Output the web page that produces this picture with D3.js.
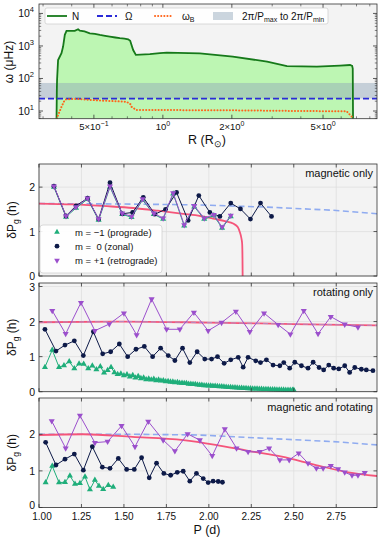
<html>
<head>
<script src="https://d3js.org/d3.v7.min.js"></script>
<style>
  body { margin: 0; background: white; }
  text { font-family: "Liberation Sans", Arial, sans-serif; fill: #111; }
</style>
</head>
<body>
<svg id="fig" width="382" height="541"></svg>
<script>
// ---- top panel: frequency profiles ----
const nR   = [0.3435, 0.3445, 0.3453, 0.3489, 0.3610, 0.3669, 0.3733, 0.3797, 0.4126, 0.4267, 0.4341, 0.4550, 0.4800, 0.5050, 0.5308, 0.5600, 0.5869, 0.6200, 0.6489, 0.6800, 0.7057, 0.7200, 0.7419, 0.7623, 0.8774, 0.9703, 1.04, 1.45, 2.02, 2.85, 3.48, 4.70, 5.93, 6.56, 6.70, 6.74, 6.76];
const nVal = [5.5, 40, 90, 370, 600, 960, 2200, 2900, 2900, 3250, 2950, 2800, 2450, 2350, 2180, 2050, 1940, 1820, 1730, 1680, 1600, 1450, 750, 530, 560, 600, 620, 590, 470, 330, 240, 230, 250, 260, 245, 200, 5.5];
const bR   = [0.3445, 0.3489, 0.3610, 0.3733, 0.3800, 0.4200, 0.5310, 0.6940, 0.7230, 0.7300, 0.7670, 1.00, 2.00, 3.97, 6.34, 6.67];
const bVal = [5.5, 7.5, 13.5, 22, 23, 23.5, 21, 19.3, 16, 13.5, 10.7, 10.7, 10.5, 10, 9.8, 6.7];
const omega = 24;          // μHz
const bandLo = 24.2, bandHi = 72.7;   // 2π/Pmax, 2π/Pmin

// ---- lower panels: period spacings ----
// magnetic only
const magP0 = [1.088, 1.159, 1.218, 1.286, 1.351, 1.418, 1.490, 1.551, 1.614, 1.682, 1.745, 1.810, 1.878, 1.941, 2.006, 2.065, 2.129, 2.186, 2.245, 2.304, 2.369];
const magV0 = [2.02, 1.35, 1.58, 1.75, 1.28, 2.10, 1.40, 1.43, 1.77, 1.39, 1.50, 1.88, 1.25, 1.81, 1.43, 1.34, 1.64, 1.51, 1.28, 1.64, 1.34];
const magPp = [1.088, 1.159, 1.218, 1.286, 1.351, 1.418, 1.490, 1.545, 1.610, 1.676, 1.731, 1.790, 1.855, 1.914, 1.973, 2.029, 2.078, 2.129];
const magVp = [2.02, 1.35, 1.55, 1.75, 1.28, 2.02, 1.41, 1.34, 1.73, 1.41, 1.30, 1.87, 1.15, 1.58, 1.30, 1.38, 1.10, 1.36];
const magVm = [2.00, 1.33, 1.53, 1.73, 1.26, 2.00, 1.39, 1.32, 1.71, 1.39, 1.28, 1.85, 1.13, 1.56, 1.28, 1.36, 1.08, 1.34];
const magFitP = [1.00, 1.20, 1.40, 1.555, 1.70, 1.849, 1.95, 2.025, 2.10, 2.143, 2.170, 2.182, 2.190, 2.196, 2.198, 2.199];
const magFitV = [1.63, 1.61, 1.57, 1.53, 1.47, 1.40, 1.35, 1.29, 1.23, 1.18, 1.10, 0.99, 0.88, 0.73, 0.40, 0.0];
const magAsyP = [1.00, 1.50, 1.94, 2.34, 2.73, 2.99];
const magAsyV = [1.63, 1.62, 1.60, 1.55, 1.48, 1.40];

// rotating only
const rotPp = [1.078, 1.157, 1.247, 1.329, 1.414, 1.500, 1.575, 1.663, 1.751, 1.829, 1.912, 1.996, 2.075, 2.159, 2.241, 2.325, 2.408, 2.480, 2.559, 2.643, 2.718, 2.800, 2.878];
const rotVp = [2.31, 1.65, 2.54, 1.74, 1.93, 2.24, 1.62, 2.64, 1.78, 1.78, 2.26, 1.74, 1.97, 2.29, 1.71, 2.24, 1.91, 1.64, 2.31, 1.65, 2.14, 1.92, 1.84];
const rotP0 = [1.035, 1.100, 1.153, 1.208, 1.261, 1.320, 1.375, 1.422, 1.473, 1.522, 1.571, 1.620, 1.669, 1.716, 1.761, 1.800, 1.845, 1.888, 1.931, 1.976, 2.016, 2.051, 2.090, 2.129, 2.173, 2.202, 2.231, 2.276, 2.304, 2.339, 2.378, 2.418, 2.441, 2.476, 2.506, 2.545, 2.584, 2.614, 2.649, 2.676, 2.706, 2.735, 2.765, 2.800, 2.829, 2.859, 2.898, 2.927, 2.966];
const rotV0 = [1.78, 1.16, 1.33, 1.45, 1.03, 1.71, 1.08, 1.14, 1.36, 1.00, 1.21, 1.29, 1.00, 1.24, 1.03, 0.89, 1.24, 0.83, 1.14, 0.93, 0.93, 1.00, 0.81, 0.91, 0.98, 0.70, 0.98, 0.88, 0.83, 0.91, 0.76, 0.74, 0.83, 0.67, 0.84, 0.74, 0.67, 0.84, 0.69, 0.62, 0.76, 0.67, 0.65, 0.74, 0.55, 0.69, 0.64, 0.62, 0.60];
const rotPm = [1.035, 1.078, 1.118, 1.147, 1.178, 1.208, 1.236, 1.263, 1.290, 1.314, 1.338, 1.361, 1.383, 1.404, 1.424, 1.444, 1.463, 1.482, 1.500, 1.518, 1.535, 1.552, 1.568, 1.584, 1.600, 1.616, 1.631, 1.646, 1.661, 1.676, 1.690, 1.704, 1.718, 1.732, 1.746, 1.760, 1.774, 1.788, 1.801, 1.815, 1.828, 1.842, 1.855, 1.868, 1.881, 1.894, 1.907, 1.920, 1.933, 1.946, 1.959, 1.972, 1.985, 1.998, 2.011, 2.024, 2.037, 2.050, 2.063, 2.076, 2.089, 2.102, 2.115, 2.128, 2.141, 2.154, 2.167, 2.180, 2.193, 2.206, 2.219, 2.232, 2.245, 2.258, 2.271, 2.284, 2.297, 2.310, 2.323, 2.336, 2.349, 2.362, 2.375, 2.388, 2.401, 2.414, 2.427, 2.440, 2.453, 2.466, 2.479, 2.492, 2.500];
const rotVm = [0.70, 1.19, 0.70, 0.75, 0.86, 0.66, 0.80, 0.79, 0.66, 0.74, 0.63, 0.72, 0.54, 0.61, 0.70, 0.55, 0.50, 0.51, 0.46, 0.49, 0.43, 0.47, 0.40, 0.44, 0.38, 0.40, 0.35, 0.37, 0.34, 0.36, 0.32, 0.34, 0.31, 0.32, 0.29, 0.30, 0.28, 0.28, 0.26, 0.27, 0.25, 0.25, 0.24, 0.24, 0.22, 0.22, 0.21, 0.21, 0.20, 0.19, 0.19, 0.18, 0.18, 0.17, 0.17, 0.16, 0.16, 0.155, 0.15, 0.145, 0.14, 0.135, 0.13, 0.125, 0.12, 0.118, 0.112, 0.108, 0.104, 0.10, 0.096, 0.093, 0.09, 0.087, 0.084, 0.081, 0.078, 0.075, 0.072, 0.07, 0.067, 0.065, 0.062, 0.06, 0.058, 0.056, 0.054, 0.052, 0.05, 0.049, 0.048, 0.047, 0.046];
const rotFitP = [1.00, 1.50, 2.00, 2.50, 2.99];
const rotFitV = [1.98, 2.00, 1.97, 1.93, 1.89];

// magnetic and rotating
const mrPp = [1.075, 1.157, 1.241, 1.329, 1.404, 1.486, 1.565, 1.643, 1.731, 1.800, 1.875, 1.947, 2.020, 2.094, 2.163, 2.231, 2.300, 2.355, 2.418, 2.473, 2.529, 2.584, 2.633, 2.673, 2.718, 2.761, 2.800, 2.843, 2.878, 2.918];
const mrVp = [2.36, 1.62, 2.51, 1.77, 1.80, 2.23, 1.66, 2.35, 1.84, 1.54, 2.01, 1.84, 1.41, 2.14, 1.62, 1.52, 1.52, 1.62, 1.30, 1.30, 1.48, 1.21, 1.07, 1.07, 1.14, 1.05, 0.96, 0.88, 0.88, 0.95];
const mrP0 = [1.039, 1.100, 1.153, 1.208, 1.261, 1.314, 1.373, 1.418, 1.467, 1.516, 1.561, 1.604, 1.649, 1.692, 1.735, 1.775, 1.814, 1.849, 1.888, 1.927, 1.967, 1.996, 2.025, 2.055, 2.080];
const mrV0 = [1.78, 1.16, 1.32, 1.46, 1.02, 1.66, 1.10, 1.07, 1.34, 1.04, 1.04, 1.36, 0.81, 1.21, 0.93, 0.88, 0.96, 0.99, 0.72, 0.93, 0.79, 0.68, 0.72, 0.71, 0.69];
const mrPm = [1.039, 1.078, 1.118, 1.153, 1.182, 1.212, 1.241, 1.271, 1.300, 1.329, 1.353, 1.378, 1.408, 1.437];
const mrVm = [0.68, 1.13, 0.68, 0.69, 0.87, 0.64, 0.66, 0.84, 0.49, 0.75, 0.59, 0.50, 0.61, 0.56];
const mrFitP = [1.00, 1.26, 1.55, 1.85, 2.04, 2.24, 2.43, 2.63, 2.82, 2.99];
const mrFitV = [1.98, 2.00, 1.93, 1.84, 1.71, 1.54, 1.39, 1.16, 0.96, 0.86];
const mrAsyP = [1.00, 1.55, 1.94, 2.33, 2.73, 2.99];
const mrAsyV = [2.00, 2.00, 1.98, 1.89, 1.80, 1.71];

const pTicks = [1.00, 1.25, 1.50, 1.75, 2.00, 2.25, 2.50, 2.75];

const cGreen = "#1fae7a", cNavy = "#0d1a48", cPurple = "#9b4fcc", cRed = "#f5557a", cBlue = "#8fabf0";
const svg = d3.select("#fig");
const bg = "#f3f3f3", frame = "#333";

// ================= top panel =================
const L = 39, R = 377;
const tx = d3.scaleLog().domain([0.288, 8.6]).range([L, R]);
const ty = d3.scaleLog().domain([5.8, 19500]).range([118.7, 4]);
const topG = svg.append("g");
topG.append("rect").attr("x", L).attr("y", 4).attr("width", R - L).attr("height", 114.7).attr("fill", bg);
topG.append("defs").append("clipPath").attr("id", "clipTop")
  .append("rect").attr("x", L).attr("y", 4).attr("width", R - L).attr("height", 114.7);
const gt = topG.append("g").attr("clip-path", "url(#clipTop)");

const nPts = nR.map((r, i) => [r, nVal[i]]);
gt.append("path").datum(nPts)
  .attr("d", d3.area().x(d => tx(d[0])).y0(118.7).y1(d => ty(Math.max(d[1], 5.8))))
  .attr("fill", "#bdf6b3");
gt.append("rect").attr("x", L).attr("width", R - L)
  .attr("y", ty(bandHi)).attr("height", ty(bandLo) - ty(bandHi))
  .attr("fill", "#8ea3b8").attr("opacity", 0.45);
gt.append("path").datum(nPts)
  .attr("d", d3.line().x(d => tx(d[0])).y(d => ty(Math.max(d[1], 5.8))))
  .attr("fill", "none").attr("stroke", "#16791a").attr("stroke-width", 1.8);
gt.append("line").attr("x1", L).attr("x2", R).attr("y1", ty(omega)).attr("y2", ty(omega))
  .attr("stroke", "#2a2ad8").attr("stroke-width", 1.8).attr("stroke-dasharray", "6,3");
gt.append("path").datum(bR.map((r, i) => [r, bVal[i]]))
  .attr("d", d3.line().x(d => tx(d[0])).y(d => ty(Math.max(d[1], 5.8))))
  .attr("fill", "none").attr("stroke", "#ff6419").attr("stroke-width", 2)
  .attr("stroke-dasharray", "0.1,3").attr("stroke-linecap", "round");

topG.append("rect").attr("x", L).attr("y", 4).attr("width", R - L).attr("height", 114.7)
  .attr("fill", "none").attr("stroke", frame).attr("stroke-width", 0.8);

// log ticks
const yMajor = [10, 100, 1000, 10000];
const yMinor = [];
[1, 10, 100, 1000].forEach(dec => { for (let k = 2; k <= 9; k++) if (dec * k >= 5.8 && dec * k <= 19500) yMinor.push(dec * k); });
yMajor.forEach(v => {
  topG.append("line").attr("x1", L).attr("x2", L + 4).attr("y1", ty(v)).attr("y2", ty(v)).attr("stroke", frame).attr("stroke-width", 0.8);
  topG.append("line").attr("x1", R).attr("x2", R - 4).attr("y1", ty(v)).attr("y2", ty(v)).attr("stroke", frame).attr("stroke-width", 0.8);
  const t = topG.append("text").attr("x", 34).attr("y", ty(v) + 4).attr("text-anchor", "end").attr("font-size", 10.5);
  t.append("tspan").text("10");
  t.append("tspan").attr("dy", -5).attr("font-size", 7.5).text(Math.log10(v));
});
yMinor.forEach(v => {
  topG.append("line").attr("x1", L).attr("x2", L + 2.2).attr("y1", ty(v)).attr("y2", ty(v)).attr("stroke", frame).attr("stroke-width", 0.6);
  topG.append("line").attr("x1", R).attr("x2", R - 2.2).attr("y1", ty(v)).attr("y2", ty(v)).attr("stroke", frame).attr("stroke-width", 0.6);
});
const xMajor = [[0.5, "5\u00d710", "\u22121"], [1, "10", "0"], [2, "2\u00d710", "0"], [5, "5\u00d710", "0"]];
const xMinor = [0.3, 0.4, 0.6, 0.7, 0.8, 0.9, 3, 4, 6, 7, 8];
xMajor.forEach(([v, base, ex]) => {
  topG.append("line").attr("x1", tx(v)).attr("x2", tx(v)).attr("y1", 118.7).attr("y2", 114.7).attr("stroke", frame).attr("stroke-width", 0.8);
  topG.append("line").attr("x1", tx(v)).attr("x2", tx(v)).attr("y1", 4).attr("y2", 8).attr("stroke", frame).attr("stroke-width", 0.8);
  const t = topG.append("text").attr("x", tx(v)).attr("y", 130).attr("text-anchor", "middle").attr("font-size", 9.5);
  t.append("tspan").text(base);
  t.append("tspan").attr("dy", -4).attr("font-size", 7).text(ex);
});
xMinor.forEach(v => {
  topG.append("line").attr("x1", tx(v)).attr("x2", tx(v)).attr("y1", 118.7).attr("y2", 116.3).attr("stroke", frame).attr("stroke-width", 0.6);
  topG.append("line").attr("x1", tx(v)).attr("x2", tx(v)).attr("y1", 4).attr("y2", 6.4).attr("stroke", frame).attr("stroke-width", 0.6);
});
topG.append("text").attr("transform", "translate(13,62) rotate(-90)").attr("text-anchor", "middle")
  .attr("font-size", 12).text("\u03c9 (\u03bcHz)");
const rl = topG.append("text").attr("x", 207).attr("y", 144).attr("text-anchor", "middle").attr("font-size", 12.5);
rl.append("tspan").text("R (R");
rl.append("tspan").attr("dy", 2.5).attr("font-size", 9).text("\u2299");
rl.append("tspan").attr("dy", -2.5).text(")");

// top legend
const lg = topG.append("g");
lg.append("rect").attr("x", 45).attr("y", 8).attr("width", 283).attr("height", 16).attr("rx", 2)
  .attr("fill", "white").attr("fill-opacity", 0.85).attr("stroke", "#ccc").attr("stroke-width", 0.7);
lg.append("line").attr("x1", 47).attr("x2", 67).attr("y1", 16).attr("y2", 16).attr("stroke", "#16791a").attr("stroke-width", 1.8);
lg.append("text").attr("x", 72).attr("y", 19.5).attr("font-size", 10).text("N");
lg.append("line").attr("x1", 97).attr("x2", 117).attr("y1", 16).attr("y2", 16).attr("stroke", "#2a2ad8").attr("stroke-width", 1.8).attr("stroke-dasharray", "6,3");
lg.append("text").attr("x", 125).attr("y", 19.5).attr("font-size", 10).text("\u03a9");
lg.append("line").attr("x1", 155).attr("x2", 173).attr("y1", 16).attr("y2", 16).attr("stroke", "#ff6419").attr("stroke-width", 2).attr("stroke-dasharray", "0.1,3").attr("stroke-linecap", "round");
const wb = lg.append("text").attr("x", 182).attr("y", 19.5).attr("font-size", 10);
wb.append("tspan").text("\u03c9");
wb.append("tspan").attr("dy", 2.5).attr("font-size", 7).text("B");
lg.append("rect").attr("x", 213).attr("y", 12).attr("width", 20).attr("height", 8).attr("fill", "#8ea3b8").attr("opacity", 0.45);
const bl = lg.append("text").attr("x", 242).attr("y", 19.5).attr("font-size", 10);
bl.append("tspan").text("2\u03c0/P");
bl.append("tspan").attr("dy", 2.5).attr("font-size", 7).text("max");
bl.append("tspan").attr("dy", -2.5).text(" to 2\u03c0/P");
bl.append("tspan").attr("dy", 2.5).attr("font-size", 7).text("min");

// ================= lower panels =================
const px = d3.scaleLinear().domain([1, 2.99]).range([L, R]);

function panel(cfg) {
  const y = d3.scaleLinear().domain(cfg.dom).range([cfg.y1, cfg.y0]);
  const g = svg.append("g");
  const id = "clip" + cfg.name;
  g.append("rect").attr("x", L).attr("y", cfg.y0).attr("width", R - L).attr("height", cfg.y1 - cfg.y0).attr("fill", bg);
  g.append("defs").append("clipPath").attr("id", id)
    .append("rect").attr("x", L).attr("y", cfg.y0).attr("width", R - L).attr("height", cfg.y1 - cfg.y0);
  // grid
  pTicks.forEach(p => g.append("line").attr("x1", px(p)).attr("x2", px(p)).attr("y1", cfg.y0).attr("y2", cfg.y1)
    .attr("stroke", "#dcdcdc").attr("stroke-width", 0.7));
  cfg.yt.forEach(v => g.append("line").attr("x1", L).attr("x2", R).attr("y1", y(v)).attr("y2", y(v))
    .attr("stroke", "#dcdcdc").attr("stroke-width", 0.7));
  const c = g.append("g").attr("clip-path", "url(#" + id + ")");
  const line = d3.line().x(d => px(d[0])).y(d => y(d[1]));
  const zip = (a, b) => a.map((v, i) => [v, b[i]]);
  if (cfg.asy) c.append("path").datum(zip(cfg.asy[0], cfg.asy[1])).attr("d", line)
    .attr("fill", "none").attr("stroke", cBlue).attr("stroke-width", 1.6).attr("stroke-dasharray", "6,3.5");
  c.append("path").datum(zip(cfg.fit[0], cfg.fit[1])).attr("d", d3.line().curve(d3.curveMonotoneX).x(d => px(d[0])).y(d => y(d[1])))
    .attr("fill", "none").attr("stroke", cRed).attr("stroke-width", 1.8);
  if (cfg.asyTop) c.append("path").datum(zip(cfg.asyTop[0], cfg.asyTop[1])).attr("d", line)
    .attr("fill", "none").attr("stroke", cBlue).attr("stroke-width", 1.1).attr("stroke-dasharray", "5,3").attr("opacity", 0.55);
  const tri = d3.symbol().type(d3.symbolTriangle).size(16);
  const series = [
    { p: cfg.m[0], v: cfg.m[1], col: cGreen, sym: "up" },
    { p: cfg.z[0], v: cfg.z[1], col: cNavy, sym: "circ" },
    { p: cfg.r[0], v: cfg.r[1], col: cPurple, sym: "down" }
  ];
  series.forEach(s => {
    const pts = zip(s.p, s.v);
    c.append("path").datum(pts).attr("d", line).attr("fill", "none").attr("stroke", s.col).attr("stroke-width", 1);
    pts.forEach(d => {
      if (s.sym === "circ") c.append("circle").attr("cx", px(d[0])).attr("cy", y(d[1])).attr("r", 2.4).attr("fill", s.col);
      else c.append("path").attr("d", tri).attr("fill", s.col)
        .attr("transform", "translate(" + px(d[0]) + "," + y(d[1]) + ")" + (s.sym === "down" ? " rotate(180)" : ""));
    });
  });
  g.append("rect").attr("x", L).attr("y", cfg.y0).attr("width", R - L).attr("height", cfg.y1 - cfg.y0)
    .attr("fill", "none").attr("stroke", frame).attr("stroke-width", 0.8);
  pTicks.forEach(p => {
    g.append("line").attr("x1", px(p)).attr("x2", px(p)).attr("y1", cfg.y1).attr("y2", cfg.y1 - 3.5).attr("stroke", frame).attr("stroke-width", 0.8);
    g.append("line").attr("x1", px(p)).attr("x2", px(p)).attr("y1", cfg.y0).attr("y2", cfg.y0 + 3.5).attr("stroke", frame).attr("stroke-width", 0.8);
  });
  cfg.yt.forEach(v => {
    g.append("line").attr("x1", L).attr("x2", L + 3.5).attr("y1", y(v)).attr("y2", y(v)).attr("stroke", frame).attr("stroke-width", 0.8);
    g.append("line").attr("x1", R).attr("x2", R - 3.5).attr("y1", y(v)).attr("y2", y(v)).attr("stroke", frame).attr("stroke-width", 0.8);
    g.append("text").attr("x", 35).attr("y", y(v) + (cfg.lowZero && v === 0 ? 1.5 : 4)).attr("text-anchor", "end").attr("font-size", 10.5).text(v);
  });
  const yl = g.append("text").attr("transform", "translate(16," + ((cfg.y0 + cfg.y1) / 2) + ") rotate(-90)")
    .attr("text-anchor", "middle").attr("font-size", 12);
  yl.append("tspan").text("\u03b4P");
  yl.append("tspan").attr("dy", 2.5).attr("font-size", 8.5).text("g");
  yl.append("tspan").attr("dy", -2.5).text(" (h)");
  g.append("text").attr("x", 373).attr("y", cfg.y0 + 13).attr("text-anchor", "end").attr("font-size", 11).text(cfg.title);
  return { g, y };
}

panel({ name: "a", y0: 164, y1: 276, dom: [0, 2.52], yt: [0, 1, 2], title: "magnetic only",
  m: [magPp, magVm], z: [magP0, magV0], r: [magPp, magVp], fit: [magFitP, magFitV], asy: [magAsyP, magAsyV] });
panel({ name: "b", y0: 283, y1: 391.7, dom: [0, 3.1], yt: [0, 1, 2, 3], title: "rotating only",
  m: [rotPm, rotVm], z: [rotP0, rotV0], r: [rotPp, rotVp], fit: [rotFitP, rotFitV], asyTop: [rotFitP, rotFitV] });
panel({ name: "c", y0: 398, y1: 507.5, dom: [0, 2.99], yt: [0, 1, 2], title: "magnetic and rotating", lowZero: true,
  m: [mrPm, mrVm], z: [mrP0, mrV0], r: [mrPp, mrVp], fit: [mrFitP, mrFitV], asy: [mrAsyP, mrAsyV] });

// x tick labels for bottom panel
pTicks.forEach(p => svg.append("text").attr("x", px(p) + (p === 1 ? 3 : 0)).attr("y", 519.5).attr("text-anchor", "middle")
  .attr("font-size", 10).text(p.toFixed(2)));
svg.append("text").attr("x", 207).attr("y", 534).attr("text-anchor", "middle").attr("font-size", 12.5).text("P (d)");

// legend in magnetic-only panel
const lg2 = svg.append("g");
lg2.append("rect").attr("x", 40).attr("y", 225).attr("width", 122).attr("height", 48).attr("rx", 3)
  .attr("fill", "white").attr("fill-opacity", 0.9).attr("stroke", "#ccc").attr("stroke-width", 0.7);
const entries = [["up", cGreen, "m = \u22121 (prograde)"], ["circ", cNavy, "m =  0 (zonal)"], ["down", cPurple, "m = +1 (retrograde)"]];
entries.forEach(([s, col, lab], i) => {
  const yy = 232 + i * 14.2;
  if (s === "circ") lg2.append("circle").attr("cx", 57).attr("cy", yy).attr("r", 2.4).attr("fill", col);
  else lg2.append("path").attr("d", d3.symbol().type(d3.symbolTriangle).size(14)).attr("fill", col)
    .attr("transform", "translate(57," + yy + ")" + (s === "down" ? " rotate(180)" : ""));
  lg2.append("text").attr("x", 75).attr("y", yy + 3.5).attr("font-size", 9.5).attr("xml:space", "preserve").text(lab);
});
</script>
</body>
</html>
